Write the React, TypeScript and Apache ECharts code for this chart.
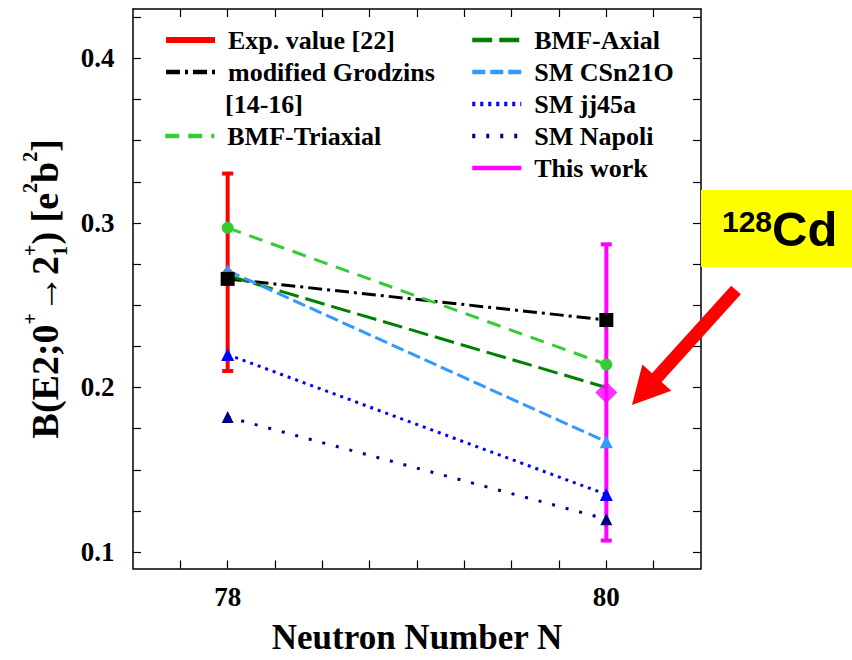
import React, { useEffect, useRef } from "react";
import * as echarts from "echarts";

// ---- data ----
const N_VALUES = [78, 80];
const X_TICKS = [77.75, 78, 78.25, 78.5, 78.75, 79, 79.25, 79.5, 79.75, 80, 80.25];
const X_LABELS = [78, 80];
const Y_TICKS = [0.1, 0.125, 0.15, 0.175, 0.2, 0.225, 0.25, 0.275, 0.3, 0.325, 0.35, 0.375, 0.4, 0.425];
const Y_LABELS = [0.1, 0.2, 0.3, 0.4];

const EXP_N = 78;
const EXP_VALUE = 0.27;
const EXP_LOW = 0.21;
const EXP_HIGH = 0.33;

const GRODZINS = [0.266, 0.241];
const BMF_TRIAXIAL = [0.297, 0.214];
const BMF_AXIAL = [0.268, 0.2];
const SM_CSN21O = [0.271, 0.167];
const SM_JJ45A = [0.22, 0.135];
const SM_NAPOLI = [0.182, 0.12];

const THIS_WORK_N = 80;
const THIS_WORK = 0.197;
const THIS_WORK_LOW = 0.107;
const THIS_WORK_HIGH = 0.287;

const SERIF = "Liberation Serif";
const SANS = "Liberation Sans";

const pairs = (vals: number[]) => N_VALUES.map((n, i) => [n, vals[i]]);

const serifStyle = (size: number, lh: number) => ({
  fontFamily: SERIF,
  fontWeight: "bold",
  fontSize: size,
  lineHeight: lh,
  color: "#000",
});

export default function App() {
  const ref = useRef<HTMLDivElement>(null);

  useEffect(() => {
    if (!ref.current) return;
    const chart = echarts.init(ref.current, null, { renderer: "svg" });

    const lineSeries = (name: string, vals: number[], color: string, dash: number[] | string, width = 3) => ({
      type: "line",
      name,
      data: pairs(vals),
      symbol: "none",
      lineStyle: { color, width, type: dash },
      itemStyle: { color },
      z: 3,
    });
    const markerSeries = (id: string, vals: number[], color: string, symbol: string, size: number | number[]) => ({
      type: "scatter",
      name: id,
      data: pairs(vals),
      symbol,
      symbolSize: size,
      itemStyle: { color, opacity: 1 },
      z: 5,
    });

    const legendBase = {
      orient: "vertical",
      padding: 0,
      itemWidth: 49,
      itemHeight: 14,
      itemGap: 6,
      formatter: (name: string) => `{t|${name}}`,
      textStyle: {
        ...serifStyle(26, 26),
        padding: [0, 0, 0, 8],
        rich: { t: serifStyle(26, 26) },
      },
      itemStyle: { opacity: 0 },
      lineStyle: { width: 4.5 },
      selectedMode: false,
    };

    // arrow geometry (annotation)
    const S = [736, 290];
    const T = [632, 405];
    const headLen = 37;
    const halfW = 6.5;
    const headHalf = 19.5;
    const dx = T[0] - S[0];
    const dy = T[1] - S[1];
    const L = Math.hypot(dx, dy);
    const u = [dx / L, dy / L];
    const nrm = [-u[1], u[0]];
    const B = [T[0] - u[0] * headLen, T[1] - u[1] * headLen];
    const P = (p: number[], k: number) => [p[0] + nrm[0] * k, p[1] + nrm[1] * k];
    const arrowPts = [P(S, halfW), P(B, halfW), P(B, headHalf), T, P(B, -headHalf), P(B, -halfW), P(S, -halfW)];

    const xAxisBase = {
      type: "value",
      min: 77.5,
      max: 80.5,
      splitLine: { show: false },
      axisLine: { show: true, onZero: false, lineStyle: { color: "#000", width: 1.5 } },
      axisTick: { show: true, inside: true, length: 8, customValues: X_TICKS, lineStyle: { color: "#000", width: 1.2 } },
    };
    const yAxisBase = {
      type: "value",
      min: 0.09,
      max: 0.43,
      splitLine: { show: false },
      axisLine: { show: true, onZero: false, lineStyle: { color: "#000", width: 1.5 } },
      axisTick: { show: true, inside: true, length: 8, customValues: Y_TICKS, lineStyle: { color: "#000", width: 1.2 } },
    };

    const option: any = {
      animation: false,
      backgroundColor: "#fff",
      grid: { left: 133, top: 9, right: 151, bottom: 84, containLabel: false },
      xAxis: [
        {
          ...xAxisBase,
          position: "bottom",
          name: "{t|Neutron Number N}",
          nameLocation: "middle",
          nameGap: 51.5,
          nameTextStyle: { ...serifStyle(35, 35), rich: { t: serifStyle(35, 35) } },
          axisLabel: {
            customValues: X_LABELS,
            margin: 14.5,
            ...serifStyle(27, 27),
            rich: { t: serifStyle(27, 27) },
            formatter: (v: number) => `{t|${Math.round(v)}}`,
          },
        },
        { ...xAxisBase, position: "top", axisLabel: { show: false } },
      ],
      yAxis: [
        {
          ...yAxisBase,
          position: "left",
          name: "{n|B(E2;0}{sp|+}{n|→2}{sb|1}{sq|+}{n|) [e}{sp|2}{n|b}{sp|2}{n|]}",
          nameLocation: "middle",
          nameRotate: 90,
          nameGap: 62.5,
          nameTextStyle: {
            ...serifStyle(38, 50),
            rich: {
              n: serifStyle(38, 50),
              sp: { ...serifStyle(20, 12), verticalAlign: "top" },
              sq: { ...serifStyle(20, 12), verticalAlign: "top", padding: [0, 0, 0, -10] },
              sb: { ...serifStyle(20, 41), verticalAlign: "bottom" },
            },
          },
          axisLabel: {
            customValues: Y_LABELS,
            margin: 18.5,
            ...serifStyle(27, 27),
            rich: { t: serifStyle(27, 27) },
            formatter: (v: number) => `{t|${v.toFixed(1)}}`,
          },
        },
        { ...yAxisBase, position: "right", axisLabel: { show: false } },
      ],
      legend: [
        {
          ...legendBase,
          left: 163,
          top: 27,
          data: [{ name: "Exp. value [22]", lineStyle: { width: 6 } }, "modified Grodzins"],
        },
        { ...legendBase, left: 163, top: 123, data: ["BMF-Triaxial"] },
        { ...legendBase, left: 470, top: 27, data: ["BMF-Axial", "SM CSn21O", "SM jj45a", "SM Napoli", "This work"] },
      ],
      series: [
        {
          type: "line",
          name: "Exp. value [22]",
          data: [
            [EXP_N, EXP_LOW],
            [EXP_N, EXP_HIGH],
          ],
          symbol: "rect",
          symbolSize: [11, 4],
          lineStyle: { color: "#ff0000", width: 4, type: "solid" },
          itemStyle: { color: "#ff0000" },
          z: 2,
        },
        {
          type: "scatter",
          name: "exp-point",
          data: [[EXP_N, EXP_VALUE]],
          symbol: "circle",
          symbolSize: 9,
          itemStyle: { color: "#ff0000" },
          z: 2,
        },
        {
          type: "line",
          name: "This work",
          data: [
            [THIS_WORK_N, THIS_WORK_LOW],
            [THIS_WORK_N, THIS_WORK_HIGH],
          ],
          symbol: "rect",
          symbolSize: [11, 4],
          lineStyle: { color: "#ff00ff", width: 4, type: "solid" },
          itemStyle: { color: "#ff00ff" },
          z: 2,
        },
        lineSeries("modified Grodzins", GRODZINS, "#000000", [14, 5, 3, 5]),
        lineSeries("BMF-Triaxial", BMF_TRIAXIAL, "#33cc33", [14, 9]),
        lineSeries("BMF-Axial", BMF_AXIAL, "#008000", [20, 7]),
        lineSeries("SM CSn21O", SM_CSN21O, "#3399ff", [13, 5]),
        lineSeries("SM jj45a", SM_JJ45A, "#0000ff", [3, 5]),
        lineSeries("SM Napoli", SM_NAPOLI, "#000080", [3, 11]),
        markerSeries("napoli-pts", SM_NAPOLI, "#000080", "triangle", 12),
        markerSeries("jj45a-pts", SM_JJ45A, "#0000ff", "triangle", 13),
        markerSeries("csn21o-pts", SM_CSN21O, "#3399ff", "triangle", 13),
        markerSeries("triaxial-pts", BMF_TRIAXIAL, "#33cc33", "circle", 12),
        markerSeries("grodzins-pts", GRODZINS, "#000000", "rect", 14),
        {
          type: "scatter",
          name: "this-work-pt",
          data: [[THIS_WORK_N, THIS_WORK]],
          symbol: "diamond",
          symbolSize: [22, 22],
          itemStyle: { color: "#ff00ff" },
          z: 6,
        },
      ],
      graphic: [
        {
          type: "text",
          x: 225,
          y: 104,
          style: {
            text: "{t|[14-16]}",
            rich: { t: serifStyle(26, 26) },
            ...serifStyle(26, 26),
            fill: "#000",
            verticalAlign: "middle",
            align: "left",
          },
          z: 10,
        },
        {
          type: "rect",
          shape: { x: 701, y: 190, width: 151, height: 77 },
          style: { fill: "#ffff00" },
          z: 10,
        },
        {
          type: "text",
          x: 722,
          y: 221,
          style: {
            text: "128",
            fontFamily: SANS,
            fontWeight: "bold",
            fontSize: 30,
            fill: "#000",
            verticalAlign: "middle",
            align: "left",
          },
          z: 11,
        },
        {
          type: "text",
          x: 772,
          y: 229,
          style: {
            text: "Cd",
            fontFamily: SANS,
            fontWeight: "bold",
            fontSize: 49,
            fill: "#000",
            verticalAlign: "middle",
            align: "left",
          },
          z: 11,
        },
        {
          type: "polygon",
          shape: { points: arrowPts },
          style: { fill: "#ff0000" },
          z: 11,
        },
      ],
    };

    chart.setOption(option);
    return () => chart.dispose();
  }, []);

  return <div ref={ref} style={{ position: "fixed", left: 0, top: 0, width: 852, height: 660 }} />;
}
